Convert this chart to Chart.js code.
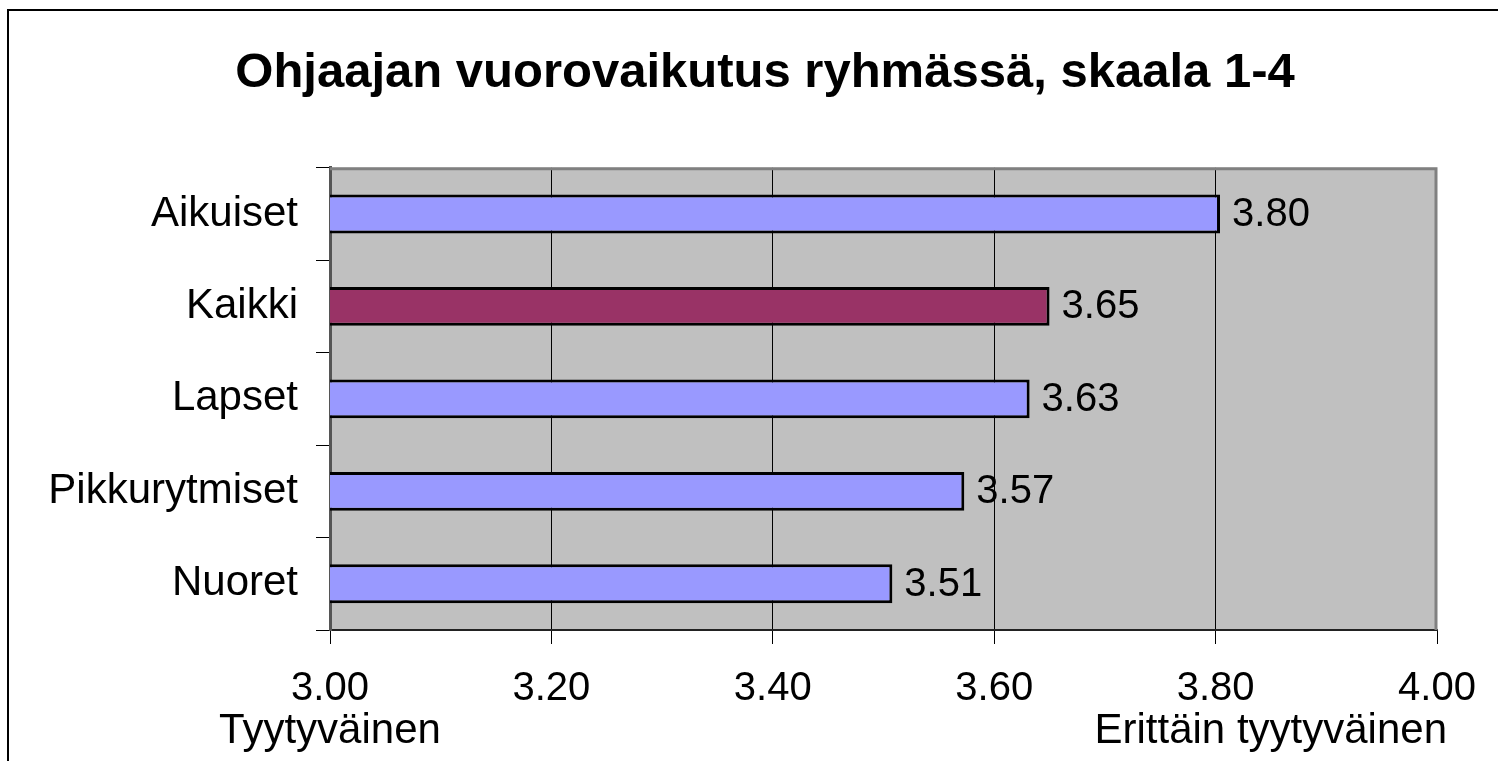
<!DOCTYPE html>
<html>
<head>
<meta charset="utf-8">
<script src="https://cdn.jsdelivr.net/npm/chart.js@4"></script>
<style>
  html, body { margin: 0; padding: 0; background: #fff; overflow: hidden; }
  #wrap { position: relative; width: 1498px; height: 761px; }
  #frame { position: absolute; left: 7px; top: 9px; width: 2000px; height: 2000px;
           border-left: 2px solid #000; border-top: 2px solid #000; }
  #chart { position: absolute; left: 0; top: 0; }
</style>
</head>
<body>
<div id="wrap">
  <div id="frame"></div>
  <canvas id="chart" width="1498" height="761"></canvas>
</div>
<script>
// datos del gráfico
const categories = ['Aikuiset', 'Kaikki', 'Lapset', 'Pikkurytmiset', 'Nuoret'];
const values = [3.804, 3.65, 3.632, 3.573, 3.508];
const barColors = ['#9999ff', '#993366', '#9999ff', '#9999ff', '#9999ff'];
const xTicks = [3.0, 3.2, 3.4, 3.6, 3.8, 4.0];
const lowCaption = 'Tyytyväinen';
const highCaption = 'Erittäin tyytyväinen';

const FONT = 'Arial, "Liberation Sans", sans-serif';

// fondo gris y marco del área de trazado
const plotArea = {
    id: 'plotArea',
    afterLayout(chart) {
        // el eje Y usa también el margen izquierdo, para no recortar las etiquetas
        const y = chart.scales.y;
        y.width = y.right;
        y.left = 0;
    },
    beforeDraw(chart) {
        const a = chart.chartArea, c = chart.ctx;
        c.save();
        c.fillStyle = '#c0c0c0';
        c.fillRect(a.left, a.top, a.right - a.left, a.bottom - a.top);
        c.restore();
    },
    beforeDatasetsDraw(chart) {
        const a = chart.chartArea, c = chart.ctx;
        c.save();
        c.strokeStyle = '#808080';
        c.lineWidth = 3;
        c.beginPath();
        c.moveTo(a.left, a.top + 1);
        c.lineTo(a.right - 1, a.top + 1);
        c.lineTo(a.right - 1, a.bottom);
        c.stroke();
        c.restore();
    }
};

// etiquetas de valor y textos bajo el eje
const valueLabels = {
    id: 'valueLabels',
    afterDatasetsDraw(chart) {
        const c = chart.ctx;
        const meta = chart.getDatasetMeta(0);
        c.save();
        c.font = '40px ' + FONT;
        c.fillStyle = '#000';
        c.textAlign = 'left';
        c.textBaseline = 'middle';
        meta.data.forEach(function (bar, i) {
            c.fillText(values[i].toFixed(2), bar.x + 12, bar.y + 1);
        });
        const x = chart.scales.x;
        c.font = '42px ' + FONT;
        c.textAlign = 'center';
        c.fillText(lowCaption, x.getPixelForValue(xTicks[0]), 731);
        c.textAlign = 'right';
        c.fillText(highCaption, x.getPixelForValue(xTicks[xTicks.length - 1]) + 10, 731);
        c.restore();
    }
};

const chart = new Chart(document.getElementById('chart'), {
    type: 'bar',
    data: {
        labels: categories,
        datasets: [{
            data: values,
            backgroundColor: barColors,
            borderColor: '#000',
            borderWidth: 3,
            borderSkipped: false,
            barPercentage: 0.42,
            categoryPercentage: 1
        }]
    },
    options: {
        indexAxis: 'y',
        responsive: false,
        animation: false,
        layout: { padding: { left: 93, right: 61, top: 0, bottom: 0 } },
        plugins: {
            legend: { display: false },
            tooltip: { enabled: false },
            title: {
                display: true,
                text: 'Ohjaajan vuorovaikutus ryhmässä, skaala 1-4',
                color: '#000',
                font: { family: FONT, size: 49, weight: 'bold', lineHeight: 1.2 },
                padding: { top: 44, bottom: 65 }
            }
        },
        scales: {
            x: {
                min: 3,
                max: 4,
                afterBuildTicks: function (scale) {
                    scale.ticks = xTicks.map(function (v) { return { value: v }; });
                },
                afterFit: function (scale) { scale.height = 131; },
                ticks: {
                    color: '#000',
                    font: { family: FONT, size: 40 },
                    padding: 21,
                    maxRotation: 0,
                    callback: function (v) { return Number(v).toFixed(2); }
                },
                grid: {
                    color: function (ctx) {
                        const v = ctx.tick ? ctx.tick.value : null;
                        return (v === 3 || v === 4) ? 'rgba(0,0,0,0)' : '#000';
                    },
                    tickColor: '#000',
                    lineWidth: 1,
                    tickLength: 14
                },
                border: { color: '#222', width: 2 }
            },
            y: {
                afterFit: function (scale) { scale.width = 237; },
                ticks: {
                    color: '#000',
                    font: { family: FONT, size: 42 },
                    padding: 18
                },
                grid: {
                    drawOnChartArea: false,
                    tickColor: '#000',
                    tickLength: 14,
                    lineWidth: 1
                },
                border: { color: '#555', width: 3 }
            }
        }
    },
    plugins: [plotArea, valueLabels]
});
</script>
</body>
</html>
